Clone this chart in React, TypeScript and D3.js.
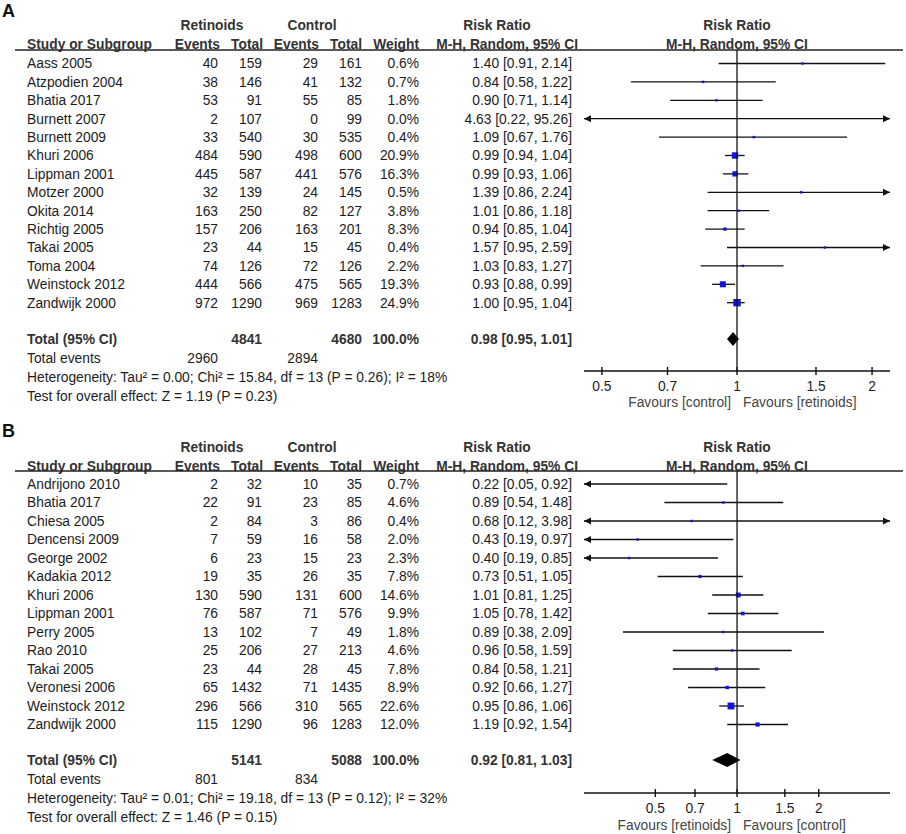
import React from "react";
import * as d3 from "d3";

// ---------- Panel A data ----------
const aStudies = ["Aass 2005", "Atzpodien 2004", "Bhatia 2017", "Burnett 2007", "Burnett 2009", "Khuri 2006", "Lippman 2001", "Motzer 2000", "Okita 2014", "Richtig 2005", "Takai 2005", "Toma 2004", "Weinstock 2012", "Zandwijk 2000"];
const aRetEvents = [40, 38, 53, 2, 33, 484, 445, 32, 163, 157, 23, 74, 444, 972];
const aRetTotal = [159, 146, 91, 107, 540, 590, 587, 139, 250, 206, 44, 126, 566, 1290];
const aCtlEvents = [29, 41, 55, 0, 30, 498, 441, 24, 82, 163, 15, 72, 475, 969];
const aCtlTotal = [161, 132, 85, 99, 535, 600, 576, 145, 127, 201, 45, 126, 565, 1283];
const aWeight = [0.6, 0.7, 1.8, 0.0, 0.4, 20.9, 16.3, 0.5, 3.8, 8.3, 0.4, 2.2, 19.3, 24.9];
const aRR = [1.40, 0.84, 0.90, 4.63, 1.09, 0.99, 0.99, 1.39, 1.01, 0.94, 1.57, 1.03, 0.93, 1.00];
const aLo = [0.91, 0.58, 0.71, 0.22, 0.67, 0.94, 0.93, 0.86, 0.86, 0.85, 0.95, 0.83, 0.88, 0.95];
const aHi = [2.14, 1.22, 1.14, 95.26, 1.76, 1.04, 1.06, 2.24, 1.18, 1.04, 2.59, 1.27, 0.99, 1.04];
const aTotals = { ret: 4841, ctl: 4680, retEv: 2960, ctlEv: 2894, rr: 0.98, lo: 0.95, hi: 1.01 };
const aHetero = "Heterogeneity: Tau\u00B2 = 0.00; Chi\u00B2 = 15.84, df = 13 (P = 0.26); I\u00B2 = 18%";
const aOverall = "Test for overall effect: Z = 1.19 (P = 0.23)";
const aFavours = ["Favours [control]", "Favours [retinoids]"];

// ---------- Panel B data ----------
const bStudies = ["Andrijono 2010", "Bhatia 2017", "Chiesa 2005", "Dencensi 2009", "George 2002", "Kadakia 2012", "Khuri 2006", "Lippman 2001", "Perry 2005", "Rao 2010", "Takai 2005", "Veronesi 2006", "Weinstock 2012", "Zandwijk 2000"];
const bRetEvents = [2, 22, 2, 7, 6, 19, 130, 76, 13, 25, 23, 65, 296, 115];
const bRetTotal = [32, 91, 84, 59, 23, 35, 590, 587, 102, 206, 44, 1432, 566, 1290];
const bCtlEvents = [10, 23, 3, 16, 15, 26, 131, 71, 7, 27, 28, 71, 310, 96];
const bCtlTotal = [35, 85, 86, 58, 23, 35, 600, 576, 49, 213, 45, 1435, 565, 1283];
const bWeight = [0.7, 4.6, 0.4, 2.0, 2.3, 7.8, 14.6, 9.9, 1.8, 4.6, 7.8, 8.9, 22.6, 12.0];
const bRR = [0.22, 0.89, 0.68, 0.43, 0.40, 0.73, 1.01, 1.05, 0.89, 0.96, 0.84, 0.92, 0.95, 1.19];
const bLo = [0.05, 0.54, 0.12, 0.19, 0.19, 0.51, 0.81, 0.78, 0.38, 0.58, 0.58, 0.66, 0.86, 0.92];
const bHi = [0.92, 1.48, 3.98, 0.97, 0.85, 1.05, 1.25, 1.42, 2.09, 1.59, 1.21, 1.27, 1.06, 1.54];
const bTotals = { ret: 5141, ctl: 5088, retEv: 801, ctlEv: 834, rr: 0.92, lo: 0.81, hi: 1.03 };
const bHetero = "Heterogeneity: Tau\u00B2 = 0.01; Chi\u00B2 = 19.18, df = 13 (P = 0.12); I\u00B2 = 32%";
const bOverall = "Test for overall effect: Z = 1.46 (P = 0.15)";
const bFavours = ["Favours [retinoids]", "Favours [control]"];

const tickValues = [0.5, 0.7, 1, 1.5, 2];
const tickLabels = ["0.5", "0.7", "1", "1.5", "2"];

const FONT = "'Liberation Sans', Arial, Helvetica, sans-serif";
const FS = 13.8;
const TXT = "#1c1c1c";
const HDR = "#333";

type PanelProps = {
  label: string;
  studies: string[];
  retEv: number[];
  retTot: number[];
  ctlEv: number[];
  ctlTot: number[];
  weight: number[];
  rr: number[];
  lo: number[];
  hi: number[];
  totals: { ret: number; ctl: number; retEv: number; ctlEv: number; rr: number; lo: number; hi: number };
  hetero: string;
  overall: string;
  favours: string[];
  domain: [number, number];
  layout: { h1: number; h2: number; ul: number; row0: number; step: number; total: number; tev: number; het: number; ovr: number; axis: number; tick: number; fav: number; lab: number };
};

const fmt = (v: number) => v.toFixed(2);
const ciText = (r: number, l: number, h: number) => `${fmt(r)} [${fmt(l)}, ${fmt(h)}]`;

function Panel(p: PanelProps) {
  const L = p.layout;
  const x = d3.scaleLog().domain(p.domain).range([584, 890]);
  const [dmin, dmax] = p.domain;
  const col = { name: 27, rE: 218, rT: 262, cE: 318, cT: 362, w: 419, ci: 572 };
  const T = (props: any) => (
    <text fontFamily={FONT} fontSize={FS} fill={TXT} dy="0.35em" {...props} />
  );
  const B = (props: any) => (
    <text fontFamily={FONT} fontSize={FS} fill={HDR} fontWeight="bold" dy="0.35em" {...props} />
  );
  const arrow = (xp: number, y: number, dir: number) => {
    const len = 7, hh = 3.5;
    return `M${xp},${y} L${xp - dir * len},${y - hh} L${xp - dir * len},${y + hh} Z`;
  };
  const dx = x(p.totals.rr), dl = x(p.totals.lo), dh = x(p.totals.hi);
  const dHalf = 7;
  return (
    <g>
      <text x={2} y={L.lab} fontFamily={FONT} fontSize={18} fontWeight="bold" fill="#111">{p.label}</text>
      {/* headers */}
      <B x={212} y={L.h1} textAnchor="middle">Retinoids</B>
      <B x={312} y={L.h1} textAnchor="middle">Control</B>
      <B x={497} y={L.h1} textAnchor="middle">Risk Ratio</B>
      <B x={737} y={L.h1} textAnchor="middle">Risk Ratio</B>
      <B x={col.name} y={L.h2}>Study or Subgroup</B>
      <B x={col.rE + 2} y={L.h2} textAnchor="end">Events</B>
      <B x={col.rT + 1} y={L.h2} textAnchor="end">Total</B>
      <B x={col.cE + 1} y={L.h2} textAnchor="end">Events</B>
      <B x={col.cT} y={L.h2} textAnchor="end">Total</B>
      <B x={col.w} y={L.h2} textAnchor="end">Weight</B>
      <B x={578} y={L.h2} textAnchor="end">M-H, Random, 95% CI</B>
      <B x={737} y={L.h2} textAnchor="middle">M-H, Random, 95% CI</B>
      <line x1={15} x2={903} y1={L.ul} y2={L.ul} stroke="#222" strokeWidth={1.4} />
      {/* rows */}
      {p.studies.map((s, i) => {
        const y = L.row0 + i * L.step;
        const x1 = Math.max(x(Math.max(p.lo[i], dmin)), 584);
        const x2 = Math.min(x(Math.min(p.hi[i], dmax)), 890);
        const side = Math.max(2.4, 0.25 * p.weight[i] + 1.2);
        const inRange = p.rr[i] >= dmin && p.rr[i] <= dmax;
        return (
          <g key={s}>
            <T x={col.name} y={y}>{s}</T>
            <T x={col.rE} y={y} textAnchor="end">{p.retEv[i]}</T>
            <T x={col.rT} y={y} textAnchor="end">{p.retTot[i]}</T>
            <T x={col.cE} y={y} textAnchor="end">{p.ctlEv[i]}</T>
            <T x={col.cT} y={y} textAnchor="end">{p.ctlTot[i]}</T>
            <T x={col.w} y={y} textAnchor="end">{p.weight[i].toFixed(1) + "%"}</T>
            <T x={col.ci} y={y} textAnchor="end">{ciText(p.rr[i], p.lo[i], p.hi[i])}</T>
            <line x1={x1} x2={x2} y1={y} y2={y} stroke="#111" strokeWidth={1.3} />
            {p.lo[i] < dmin && <path d={arrow(x1, y, -1)} fill="#111" />}
            {p.hi[i] > dmax && <path d={arrow(x2, y, 1)} fill="#111" />}
            {inRange && (
              <rect x={x(p.rr[i]) - side / 2} y={y - side / 2} width={side} height={side} fill="#1414d8" />
            )}
          </g>
        );
      })}
      {/* total */}
      <B x={col.name} y={L.total}>Total (95% CI)</B>
      <B x={col.rT} y={L.total} textAnchor="end">{p.totals.ret}</B>
      <B x={col.cT} y={L.total} textAnchor="end">{p.totals.ctl}</B>
      <B x={col.w} y={L.total} textAnchor="end">100.0%</B>
      <B x={col.ci} y={L.total} textAnchor="end">{ciText(p.totals.rr, p.totals.lo, p.totals.hi)}</B>
      <path d={`M${dl},${L.total} L${dx},${L.total - dHalf} L${dh},${L.total} L${dx},${L.total + dHalf} Z`} fill="#000" />
      <T x={col.name} y={L.tev}>Total events</T>
      <T x={col.rE} y={L.tev} textAnchor="end">{p.totals.retEv}</T>
      <T x={col.cE} y={L.tev} textAnchor="end">{p.totals.ctlEv}</T>
      <T x={col.name} y={L.het}>{p.hetero}</T>
      <T x={col.name} y={L.ovr}>{p.overall}</T>
      {/* reference line */}
      <line x1={x(1)} x2={x(1)} y1={L.ul} y2={L.axis} stroke="#111" strokeWidth={1.3} />
      {/* axis */}
      <line x1={584} x2={890} y1={L.axis} y2={L.axis} stroke="#111" strokeWidth={1.4} />
      {tickValues.map((t, i) => (
        <g key={t}>
          <line x1={x(t)} x2={x(t)} y1={L.axis - 4} y2={L.axis + 4} stroke="#111" strokeWidth={1.4} />
          <T x={x(t)} y={L.tick} textAnchor="middle">{tickLabels[i]}</T>
        </g>
      ))}
      <text x={x(1) - 6} y={L.fav} dy="0.35em" textAnchor="end" fontFamily={FONT} fontSize={FS} fill="#444">{p.favours[0]}</text>
      <text x={x(1) + 6} y={L.fav} dy="0.35em" textAnchor="start" fontFamily={FONT} fontSize={FS} fill="#444">{p.favours[1]}</text>
    </g>
  );
}

export default function App() {
  return (
    <svg width={906} height={834} style={{ position: "absolute", left: 0, top: 0, background: "#fff" }}>
      <rect width={906} height={834} fill="#fff" />
      <Panel
        label="A"
        studies={aStudies} retEv={aRetEvents} retTot={aRetTotal} ctlEv={aCtlEvents} ctlTot={aCtlTotal}
        weight={aWeight} rr={aRR} lo={aLo} hi={aHi} totals={aTotals}
        hetero={aHetero} overall={aOverall} favours={aFavours}
        domain={[0.456, 2.193]}
        layout={{ lab: 17, h1: 25, h2: 44, ul: 50, row0: 63.5, step: 18.4, total: 339, tev: 358, het: 377, ovr: 396, axis: 371, tick: 386, fav: 402 }}
      />
      <Panel
        label="B"
        studies={bStudies} retEv={bRetEvents} retTot={bRetTotal} ctlEv={bCtlEvents} ctlTot={bCtlTotal}
        weight={bWeight} rr={bRR} lo={bLo} hi={bHi} totals={bTotals}
        hetero={bHetero} overall={bOverall} favours={bFavours}
        domain={[0.273, 3.66]}
        layout={{ lab: 437, h1: 447, h2: 466, ul: 471, row0: 484, step: 18.5, total: 760, tev: 779, het: 798, ovr: 817, axis: 793, tick: 808, fav: 825 }}
      />
    </svg>
  );
}
